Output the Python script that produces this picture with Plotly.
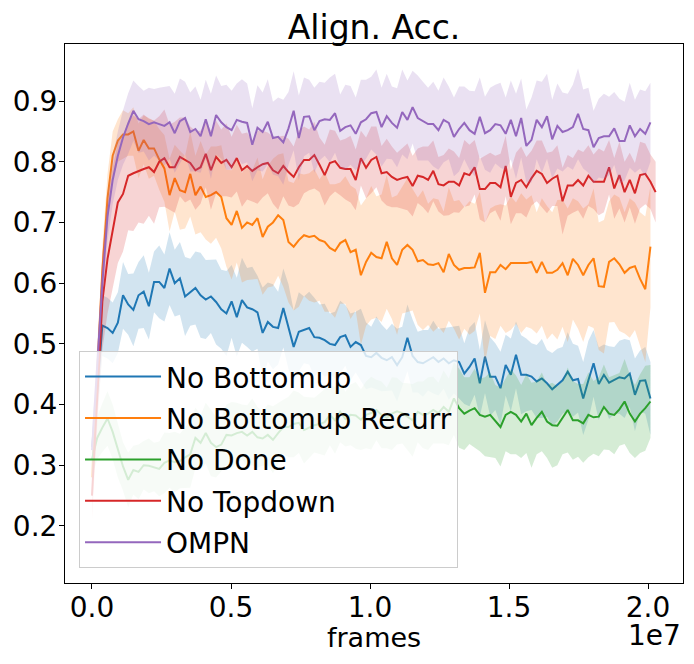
import plotly.graph_objects as go

# ── Logged training curves (mean + std over seeds) ───────────────────────────
LOG_INTERVAL = 186_000  # frames between evaluations

no_bottomup = [
    0.33, 0.42, 0.53, 0.526, 0.518, 0.535, 0.58, 0.565, 0.556, 0.58,
    0.586, 0.562, 0.602, 0.602, 0.592, 0.624, 0.60, 0.608, 0.578, 0.585,
    0.592, 0.58, 0.573, 0.578, 0.569, 0.557, 0.55, 0.57, 0.544, 0.572,
    0.56, 0.557, 0.552, 0.518, 0.536, 0.528, 0.526, 0.559, 0.528, 0.495,
    0.52, 0.523, 0.526, 0.511, 0.51, 0.506, 0.50, 0.498, 0.511, 0.514,
    0.495, 0.503, 0.498, 0.48, 0.478, 0.485, 0.477, 0.473, 0.478, 0.465,
    0.478, 0.51, 0.48, 0.47, 0.468, 0.473, 0.478, 0.47, 0.476, 0.468,
    0.473, 0.47, 0.451, 0.462, 0.476, 0.435, 0.479, 0.446, 0.446, 0.427,
    0.465, 0.449, 0.482, 0.449, 0.449, 0.446, 0.438, 0.443, 0.435, 0.425,
    0.432, 0.44, 0.454, 0.44, 0.442, 0.41, 0.44, 0.468, 0.434, 0.449,
    0.436, 0.44, 0.445, 0.443, 0.451, 0.416, 0.439, 0.44, 0.41,
]
no_bottomup_std = [
    0.03, 0.04, 0.05, 0.05, 0.05,
    0.05, 0.055, 0.05, 0.06, 0.055, 0.06, 0.055, 0.05, 0.06, 0.055,
    0.06, 0.055, 0.06, 0.065, 0.055, 0.06, 0.07, 0.065, 0.06, 0.07, 0.065, 0.07, 0.06, 0.065, 0.07,
    0.065, 0.07, 0.06, 0.075, 0.065, 0.07, 0.06, 0.065, 0.07, 0.06,
    0.065, 0.055, 0.06, 0.065, 0.055, 0.06, 0.05, 0.055, 0.06, 0.05,
    0.055, 0.05, 0.06, 0.055, 0.05, 0.06, 0.055, 0.05, 0.055, 0.06,
    0.05, 0.055, 0.06, 0.05, 0.055, 0.05, 0.06, 0.055, 0.05, 0.06,
    0.055, 0.06, 0.05, 0.065, 0.06, 0.055, 0.06, 0.065, 0.055, 0.06,
    0.05, 0.06, 0.055, 0.065, 0.06, 0.055, 0.06, 0.065, 0.055, 0.06,
    0.06, 0.055, 0.065, 0.06, 0.055, 0.06, 0.065, 0.055, 0.06, 0.05,
    0.06, 0.055, 0.06, 0.065, 0.055, 0.06, 0.05, 0.055, 0.06,
]

no_bottomup_recurr = [
    0.28, 0.45, 0.62, 0.74, 0.81, 0.835, 0.845, 0.845, 0.85, 0.818,
    0.836, 0.822, 0.822, 0.804, 0.789, 0.745, 0.773, 0.753, 0.75, 0.78,
    0.745, 0.759, 0.742, 0.745, 0.75, 0.742, 0.707, 0.696, 0.719, 0.691,
    0.70, 0.696, 0.707, 0.676, 0.693, 0.70, 0.712, 0.704, 0.668, 0.66,
    0.671, 0.679, 0.676, 0.678, 0.671, 0.668, 0.658, 0.653, 0.666, 0.671,
    0.651, 0.655, 0.613, 0.635, 0.65, 0.643, 0.641, 0.668, 0.641, 0.63,
    0.655, 0.663, 0.655, 0.636, 0.638, 0.631, 0.63, 0.633, 0.618, 0.648,
    0.63, 0.622, 0.625, 0.625, 0.626, 0.65, 0.584, 0.618, 0.618, 0.63,
    0.623, 0.633, 0.633, 0.633, 0.633, 0.635, 0.617, 0.635, 0.617, 0.617,
    0.622, 0.633, 0.613, 0.64, 0.63, 0.613, 0.63, 0.641, 0.595, 0.594,
    0.635, 0.641, 0.631, 0.617, 0.625, 0.628, 0.607, 0.59, 0.66,
]
no_bottomup_recurr_std = [
    0.03, 0.04, 0.04, 0.04, 0.04,
    0.035, 0.04, 0.035, 0.04, 0.045, 0.04, 0.05, 0.045, 0.05, 0.055,
    0.06, 0.055, 0.065, 0.06, 0.07, 0.065, 0.075, 0.07, 0.08, 0.075, 0.085, 0.08, 0.09, 0.085, 0.09,
    0.095, 0.09, 0.1, 0.095, 0.1, 0.105, 0.1, 0.11, 0.1, 0.105,
    0.11, 0.1, 0.105, 0.11, 0.1, 0.115, 0.105, 0.11, 0.1, 0.105,
    0.11, 0.1, 0.115, 0.105, 0.11, 0.1, 0.105, 0.11, 0.1, 0.115,
    0.105, 0.11, 0.1, 0.105, 0.115, 0.1, 0.11, 0.105, 0.1, 0.11,
    0.105, 0.115, 0.1, 0.11, 0.105, 0.1, 0.115, 0.105, 0.11, 0.1,
    0.105, 0.11, 0.1, 0.115, 0.105, 0.11, 0.1, 0.105, 0.11, 0.1,
    0.115, 0.105, 0.11, 0.1, 0.105, 0.11, 0.1, 0.115, 0.105, 0.11,
    0.1, 0.105, 0.11, 0.1, 0.115, 0.105, 0.11, 0.12, 0.1,
]

no_done = [
    0.31, 0.345, 0.362, 0.377, 0.355, 0.325, 0.298, 0.276, 0.292, 0.289,
    0.30, 0.299, 0.297, 0.294, 0.304, 0.308, 0.305, 0.307, 0.313, 0.318,
    0.345, 0.337, 0.353, 0.337, 0.33, 0.334, 0.35, 0.349, 0.353, 0.355,
    0.349, 0.355, 0.346, 0.344, 0.35, 0.342, 0.353, 0.363, 0.363, 0.368,
    0.37, 0.358, 0.362, 0.366, 0.368, 0.371, 0.383, 0.374, 0.388, 0.376,
    0.383, 0.382, 0.375, 0.383, 0.386, 0.391, 0.383, 0.378, 0.385, 0.389,
    0.386, 0.38, 0.374, 0.388, 0.383, 0.385, 0.391, 0.386, 0.396, 0.388,
    0.41, 0.394, 0.385, 0.39, 0.394, 0.383, 0.38, 0.383, 0.372, 0.363,
    0.383, 0.388, 0.383, 0.372, 0.385, 0.366, 0.378, 0.388, 0.372, 0.366,
    0.365, 0.378, 0.391, 0.374, 0.374, 0.369, 0.383, 0.379, 0.38, 0.396,
    0.385, 0.383, 0.392, 0.405, 0.385, 0.372, 0.385, 0.394, 0.405,
]
no_done_std = [
    0.03, 0.035, 0.04, 0.045, 0.045,
    0.045, 0.04, 0.045, 0.04, 0.045, 0.04, 0.045, 0.04, 0.045, 0.05,
    0.045, 0.05, 0.045, 0.05, 0.055, 0.05, 0.045, 0.05, 0.055, 0.05, 0.045, 0.05, 0.055, 0.05, 0.045,
    0.05, 0.055, 0.05, 0.045, 0.05, 0.055, 0.05, 0.045, 0.05, 0.055,
    0.05, 0.055, 0.05, 0.045, 0.05, 0.055, 0.05, 0.055, 0.05, 0.045,
    0.05, 0.055, 0.05, 0.055, 0.06, 0.05, 0.055, 0.05, 0.06, 0.055,
    0.05, 0.055, 0.06, 0.05, 0.055, 0.06, 0.055, 0.05, 0.06, 0.055,
    0.06, 0.065, 0.06, 0.055, 0.065, 0.06, 0.065, 0.07, 0.06, 0.065,
    0.06, 0.07, 0.065, 0.06, 0.065, 0.07, 0.06, 0.065, 0.06, 0.07,
    0.065, 0.06, 0.07, 0.065, 0.06, 0.065, 0.07, 0.06, 0.065, 0.07,
    0.06, 0.065, 0.06, 0.07, 0.065, 0.06, 0.065, 0.07, 0.06,
]

no_topdown = [
    0.25, 0.42, 0.57, 0.64, 0.69, 0.733, 0.747, 0.777, 0.781, 0.785,
    0.788, 0.791, 0.783, 0.80, 0.806, 0.791, 0.791, 0.808, 0.803, 0.798,
    0.786, 0.791, 0.813, 0.786, 0.808, 0.798, 0.803, 0.791, 0.806, 0.786,
    0.793, 0.785, 0.791, 0.796, 0.798, 0.786, 0.781, 0.793, 0.783, 0.775,
    0.791, 0.803, 0.803, 0.811, 0.795, 0.778, 0.798, 0.801, 0.79, 0.788,
    0.788, 0.77, 0.806, 0.79, 0.803, 0.808, 0.781, 0.783, 0.775, 0.77,
    0.773, 0.775, 0.76, 0.777, 0.775, 0.77, 0.785, 0.763, 0.761, 0.767,
    0.767, 0.761, 0.781, 0.778, 0.791, 0.755, 0.755, 0.765, 0.765, 0.758,
    0.793, 0.742, 0.765, 0.77, 0.758, 0.773, 0.785, 0.78, 0.765, 0.772,
    0.777, 0.735, 0.761, 0.761, 0.77, 0.761, 0.777, 0.767, 0.767, 0.767,
    0.791, 0.756, 0.778, 0.75, 0.77, 0.748, 0.778, 0.78, 0.767, 0.75,
]
no_topdown_std = [
    0.04, 0.06, 0.08, 0.09, 0.1,
    0.1, 0.095, 0.09, 0.095, 0.085, 0.09, 0.08, 0.085, 0.075, 0.08,
    0.07, 0.075, 0.065, 0.07, 0.06, 0.065, 0.06, 0.055, 0.065, 0.06, 0.055, 0.06, 0.05, 0.055, 0.06,
    0.055, 0.05, 0.06, 0.055, 0.05, 0.055, 0.06, 0.05, 0.055, 0.05,
    0.06, 0.055, 0.05, 0.055, 0.045, 0.05, 0.055, 0.05, 0.045, 0.05,
    0.055, 0.05, 0.045, 0.05, 0.055, 0.05, 0.045, 0.055, 0.05, 0.045,
    0.05, 0.055, 0.05, 0.045, 0.05, 0.055, 0.05, 0.045, 0.05, 0.055,
    0.05, 0.045, 0.055, 0.05, 0.045, 0.05, 0.055, 0.05, 0.045, 0.055,
    0.05, 0.045, 0.05, 0.055, 0.05, 0.045, 0.05, 0.055, 0.05, 0.045,
    0.05, 0.055, 0.05, 0.045, 0.05, 0.055, 0.05, 0.045, 0.055, 0.05,
    0.045, 0.05, 0.055, 0.05, 0.045, 0.05, 0.055, 0.05, 0.045, 0.05,
]

ompn = [
    0.325, 0.46, 0.60, 0.71, 0.77, 0.81, 0.84, 0.863, 0.884, 0.87,
    0.867, 0.862, 0.865, 0.862, 0.859, 0.865, 0.847, 0.867, 0.872, 0.849,
    0.854, 0.842, 0.87, 0.842, 0.877, 0.865, 0.857, 0.852, 0.869, 0.866,
    0.864, 0.828, 0.856, 0.849, 0.866, 0.839, 0.841, 0.832, 0.855, 0.884,
    0.839, 0.874, 0.875, 0.852, 0.867, 0.87, 0.869, 0.88, 0.851, 0.857,
    0.86, 0.846, 0.865, 0.87, 0.88, 0.882, 0.857, 0.875, 0.864, 0.856,
    0.882, 0.869, 0.89, 0.872, 0.867, 0.862, 0.862, 0.852, 0.869, 0.864,
    0.841, 0.854, 0.864, 0.852, 0.846, 0.874, 0.847, 0.852, 0.862, 0.86,
    0.846, 0.869, 0.842, 0.872, 0.826, 0.836, 0.869, 0.857, 0.875, 0.837,
    0.859, 0.849, 0.852, 0.857, 0.879, 0.854, 0.852, 0.824, 0.839, 0.842,
    0.842, 0.855, 0.834, 0.834, 0.86, 0.842, 0.854, 0.846, 0.865,
]
ompn_std = [
    0.03, 0.04, 0.04, 0.04, 0.04,
    0.04, 0.045, 0.05, 0.05, 0.055, 0.05, 0.06, 0.055, 0.06, 0.065,
    0.06, 0.065, 0.07, 0.06, 0.065, 0.07, 0.06, 0.065, 0.07, 0.065, 0.06, 0.07, 0.065, 0.06, 0.07,
    0.065, 0.06, 0.07, 0.065, 0.07, 0.06, 0.065, 0.07, 0.06, 0.065,
    0.07, 0.065, 0.06, 0.07, 0.065, 0.06, 0.07, 0.065, 0.06, 0.07,
    0.065, 0.06, 0.07, 0.065, 0.06, 0.07, 0.065, 0.07, 0.06, 0.065,
    0.07, 0.065, 0.06, 0.07, 0.065, 0.06, 0.07, 0.065, 0.07, 0.06,
    0.065, 0.07, 0.06, 0.065, 0.07, 0.065, 0.06, 0.07, 0.065, 0.07,
    0.06, 0.065, 0.07, 0.065, 0.06, 0.07, 0.065, 0.075, 0.07, 0.065,
    0.07, 0.065, 0.06, 0.07, 0.075, 0.065, 0.07, 0.06, 0.065, 0.07,
    0.065, 0.06, 0.07, 0.065, 0.07, 0.06, 0.065, 0.07, 0.065,
]

SERIES = [
    ("No Bottomup", no_bottomup, no_bottomup_std, "#1f77b4", "rgba(31,119,180,0.2)"),
    ("No Bottomup Recurr", no_bottomup_recurr, no_bottomup_recurr_std, "#ff7f0e", "rgba(255,127,14,0.2)"),
    ("No Done", no_done, no_done_std, "#2ca02c", "rgba(44,160,44,0.2)"),
    ("No Topdown", no_topdown, no_topdown_std, "#d62728", "rgba(214,39,40,0.2)"),
    ("OMPN", ompn, ompn_std, "#9467bd", "rgba(148,103,189,0.2)"),
]

FONT = "DejaVu Sans"

fig = go.Figure()

for name, mean, std, colour, band in SERIES:
    frames = [i * LOG_INTERVAL for i in range(len(mean))]
    upper = [m + s for m, s in zip(mean, std)]
    lower = [m - s for m, s in zip(mean, std)]
    fig.add_trace(go.Scatter(
        x=frames + frames[::-1], y=upper + lower[::-1],
        fill="toself", fillcolor=band, line=dict(width=0),
        mode="lines", hoverinfo="skip", showlegend=False,
    ))
    fig.add_trace(go.Scatter(
        x=frames, y=mean, name=name, mode="lines",
        line=dict(color=colour, width=2), legendgroup=name,
    ))

axis_common = dict(
    showline=True, linecolor="black", linewidth=1, mirror=True,
    ticks="outside", ticklen=5, tickcolor="black", tickwidth=1,
    showgrid=False, zeroline=False, automargin=False,
    tickfont=dict(family=FONT, size=28, color="black"),
)

# page body has an 8px margin, so the figure is shifted up/left by that much
fig.update_layout(
    width=694, height=664,
    margin=dict(l=57, r=19, t=36, b=89),
    plot_bgcolor="white", paper_bgcolor="white",
    font=dict(family=FONT, size=27, color="black"),
    title=dict(text="Align. Acc.", x=0.5, xref="paper", xanchor="center",
               y=0.971, yref="container", yanchor="middle",
               font=dict(family=FONT, size=33, color="black")),
    xaxis=dict(
        range=[-0.0971e7, 2.1259e7],
        tickvals=[0, 5e6, 1e7, 1.5e7, 2e7],
        ticktext=["0.0", "0.5", "1.0", "1.5", "2.0"],
        ticklabelstandoff=-6,
        **axis_common,
    ),
    yaxis=dict(
        range=[0.106, 0.994],
        tickvals=[0.2, 0.3, 0.4, 0.5, 0.6, 0.7, 0.8, 0.9],
        ticktext=["0.2", "0.3", "0.4", "0.5", "0.6", "0.7", "0.8", "0.9"],
        ticklabelstandoff=-4,
        **axis_common,
    ),
    legend=dict(
        x=0.0227, y=0.028, xanchor="left", yanchor="bottom",
        bgcolor="rgba(255,255,255,0.8)", bordercolor="#cccccc", borderwidth=1,
        font=dict(family=FONT, size=28, color="black"),
        tracegroupgap=2, itemwidth=76,
    ),
    annotations=[
        dict(text="frames", xref="paper", yref="paper", x=0.5, y=-0.102,
             xanchor="center", yanchor="middle", showarrow=False,
             font=dict(family=FONT, size=27, color="black")),
        dict(text="1e7", xref="paper", yref="paper", x=1.0, y=-0.097,
             xanchor="right", yanchor="middle", showarrow=False,
             font=dict(family=FONT, size=28, color="black")),
    ],
    showlegend=True,
)

fig.write_html("out.html")
